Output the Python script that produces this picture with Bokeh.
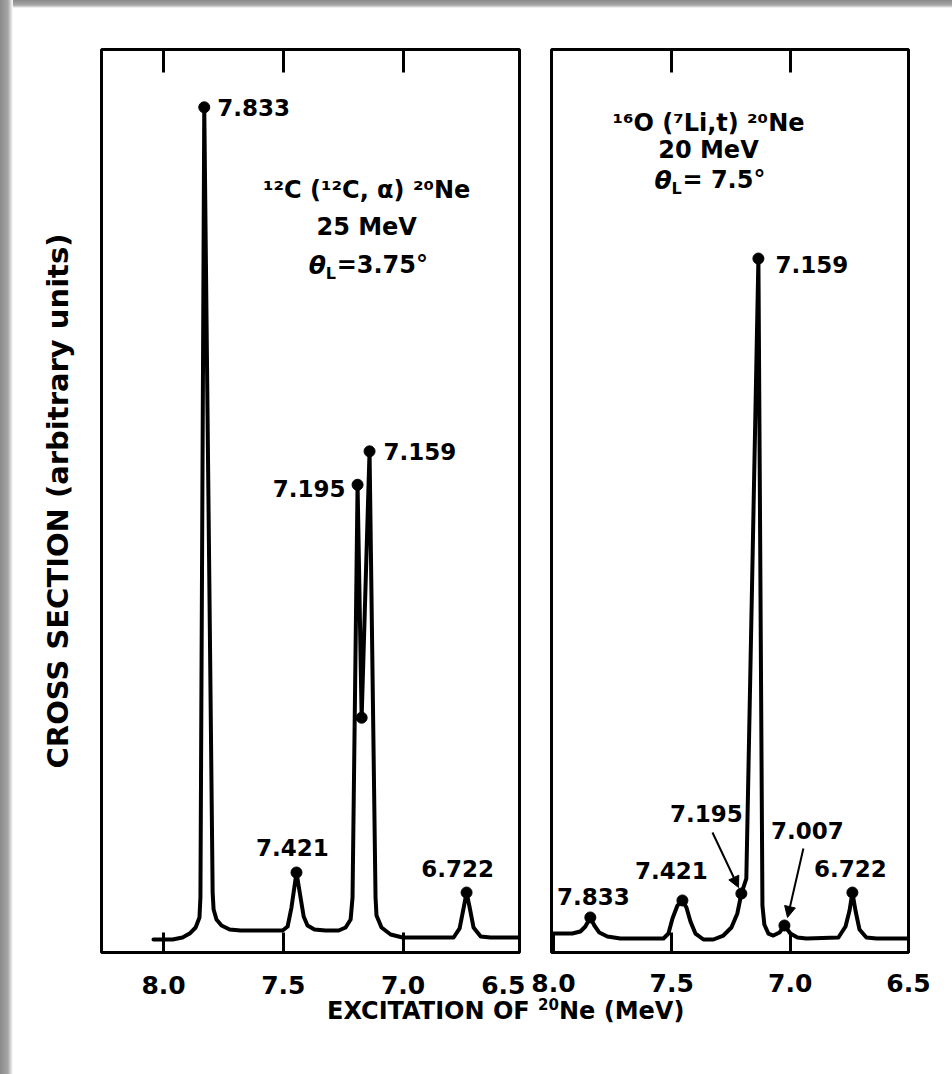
from bokeh.plotting import figure
from bokeh.layouts import row, column
from bokeh.models import (Range1d, FixedTicker, LinearAxis, Arrow, NormalHead,
                          Div, PrintfTickFormatter, GlobalInlineStyleSheet,
                          CustomLabelingPolicy)
from bokeh.core.properties import value
from bokeh.embed import file_html
from bokeh.resources import INLINE

FONT = "DejaVu Sans"

# ---------------- data: 12C(12C,alpha)20Ne, 25 MeV, theta_L = 3.75 deg ----------------
c12_excitation = [8.042, 7.962, 7.921, 7.891, 7.866, 7.850, 7.846, 7.830, 7.795, 7.791,
                  7.779, 7.758, 7.724, 7.678, 7.503, 7.482, 7.466, 7.445, 7.428, 7.415,
                  7.399, 7.370, 7.324, 7.269, 7.240, 7.219, 7.211, 7.190, 7.173, 7.140,
                  7.115, 7.111, 7.090, 7.052, 7.002, 6.789, 6.764, 6.747, 6.735, 6.722,
                  6.706, 6.676, 6.635, 6.514]
c12_cross_section = [1.44, 1.44, 1.66, 2.10, 2.77, 3.88, 6.09, 93.6, 6.64, 4.76,
                     3.65, 2.99, 2.55, 2.44, 2.44, 2.88, 4.98, 8.86, 6.09, 3.99,
                     2.99, 2.55, 2.44, 2.44, 2.77, 3.65, 6.09, 51.8, 26.0, 55.5,
                     6.09, 4.10, 2.77, 1.99, 1.66, 1.66, 2.66, 4.98, 6.64, 4.98,
                     2.77, 1.77, 1.66, 1.66]
c12_marked_excitation = [7.830, 7.445, 7.190, 7.173, 7.140, 6.735]
c12_marked_cross_section = [93.6, 8.86, 51.8, 26.0, 55.5, 6.64]
c12_marked_labels = ["7.833", "7.421", "7.195", "", "7.159", "6.722"]

# ---------------- data: 16O(7Li,t)20Ne, 20 MeV, theta_L = 7.5 deg ----------------
o16_excitation = [8.004, 7.920, 7.886, 7.865, 7.844, 7.827, 7.806, 7.772, 7.717, 7.535,
                  7.514, 7.497, 7.476, 7.455, 7.438, 7.421, 7.400, 7.366, 7.324, 7.282,
                  7.248, 7.223, 7.206, 7.185, 7.134, 7.117, 7.109, 7.092, 7.071, 7.045,
                  7.024, 6.999, 6.969, 6.931, 6.796, 6.766, 6.749, 6.737, 6.724, 6.707,
                  6.678, 6.635, 6.500]
o16_cross_section = [2.10, 2.10, 2.33, 2.88, 3.88, 2.99, 2.21, 1.77, 1.55, 1.55,
                     2.10, 3.77, 5.20, 5.76, 4.98, 3.43, 2.10, 1.44, 1.44, 1.88,
                     2.77, 4.32, 6.53, 8.19, 76.85, 5.20, 3.10, 2.10, 1.88, 2.21,
                     2.99, 2.10, 1.66, 1.55, 1.66, 2.88, 4.65, 6.64, 4.65, 2.55,
                     1.66, 1.55, 1.55]
o16_marked_excitation = [7.844, 7.455, 7.206, 7.134, 7.024, 6.737]
o16_marked_cross_section = [3.88, 5.76, 6.53, 76.85, 2.99, 6.64]
o16_marked_labels = ["7.833", "7.421", "7.195", "7.159", "7.007", "6.722"]

tick_values = [8.0, 7.5, 7.0, 6.5]
tick_labels = ["8.0", "7.5", "7.0", "6.5"]

# ---------------- styles / label placement (screen px offsets) ----------------
c12_label_style = [("left", 13, 0), ("center", -4, -25), ("right", -12, 4),
                   ("center", 0, 0), ("left", 14, 0), ("center", -9, -24)]
o16_label_style = [("center", 3, -21), ("center", -11, -30), ("center", -35, -80),
                   ("left", 17, 6), ("center", 23, -95), ("center", -2, -24)]
LABEL_SIZE = "23px"
EDGE_LABEL_SHIFT = 0.065   # panel 1: "6.5" printed just inside the right edge


def tick_only_axis(ticks, tick_len):
    ax = LinearAxis(ticker=FixedTicker(ticks=ticks))
    ax.axis_line_color = None
    ax.major_tick_in = tick_len
    ax.major_tick_out = 0
    ax.minor_tick_in = 0
    ax.minor_tick_out = 0
    ax.major_tick_line_width = 3
    ax.major_tick_line_color = "black"
    ax.major_label_text_font_size = "2px"
    ax.major_label_standoff = 0
    ax.major_label_policy = CustomLabelingPolicy(code="return new Set()")
    return ax


def label_axis(ticks, overrides, tick_len, standoff):
    ax = LinearAxis(ticker=FixedTicker(ticks=ticks),
                    formatter=PrintfTickFormatter(format="%.1f"))
    if overrides:
        ax.major_label_overrides = overrides
    ax.axis_line_color = None
    ax.major_tick_in = tick_len
    ax.major_tick_out = 0
    ax.minor_tick_in = 0
    ax.minor_tick_out = 0
    ax.major_tick_line_width = 3
    ax.major_tick_line_color = "black"
    ax.major_label_text_font = FONT
    ax.major_label_text_font_size = "25px"
    ax.major_label_text_font_style = "bold"
    ax.major_label_text_color = "black"
    ax.major_label_standoff = standoff
    return ax


def make_panel(x_start, x_end, frame_w, b_left, b_right, b_top, b_bottom, ticks_top):
    p = figure(x_range=Range1d(x_start, x_end), y_range=Range1d(0, 100),
               frame_width=frame_w, frame_height=903,
               min_border_left=b_left, min_border_right=b_right,
               min_border_top=b_top, min_border_bottom=b_bottom,
               x_axis_location=None, y_axis_location=None,
               output_backend="svg", toolbar_location=None)
    p.grid.visible = False
    p.outline_line_color = "black"
    p.outline_line_width = 3
    p.border_fill_color = None
    p.background_fill_color = "white"
    p.add_layout(tick_only_axis(ticks_top, 23), "above")
    return p


def draw_spectrum(p, xs, ys, mx, my, labels, styles):
    p.line(xs, ys, line_width=4, line_color="black", line_join="round", line_cap="round")
    p.scatter(mx, my, size=11, color="black")
    for x, y, t, (al, dx, dy) in zip(mx, my, labels, styles):
        if not t:
            continue
        p.text(x=[x], y=[y], text=[t], x_offset=dx, y_offset=dy,
               text_align=al, text_baseline="middle",
               text_font=value(FONT), text_font_size=LABEL_SIZE,
               text_font_style="bold", text_color="black")


def reaction_text(p, xc, y1, y2, y3, line1, line2, theta_val, theta_start):
    common = dict(text_baseline="middle", text_font=value(FONT), text_color="black")
    p.text(x=[xc], y=[y1], text=[line1], text_align="center",
           text_font_size="24px", text_font_style="bold", **common)
    p.text(x=[xc], y=[y2], text=[line2], text_align="center",
           text_font_size="24px", text_font_style="bold", **common)
    p.text(x=[xc], y=[y3], text=["θ"], text_align="left", x_offset=theta_start,
           text_font_size="25px", text_font_style="bold italic", **common)
    p.text(x=[xc], y=[y3], text=["L"], text_align="left", x_offset=theta_start + 17,
           y_offset=8, text_font_size="16px", text_font_style="bold", **common)
    p.text(x=[xc], y=[y3], text=[theta_val], text_align="left", x_offset=theta_start + 28,
           text_font_size="24px", text_font_style="bold", **common)


# ---------------- panel 1 ----------------
p1 = make_panel(8.259, 6.514, 418, 101, 6, 47, 52, tick_values[:3])
# ticks at the frame, then the labels (the last one pulled inside the right edge)
p1.add_layout(tick_only_axis(tick_values[:3], 20), "below")
p1_label_ticks = tick_values[:3] + [tick_values[3] + EDGE_LABEL_SHIFT]
p1.add_layout(label_axis(p1_label_ticks, {p1_label_ticks[3]: tick_labels[3]}, 0, 19), "below")

left = LinearAxis(ticker=FixedTicker(ticks=[]), axis_label="CROSS SECTION (arbitrary units)")
left.axis_line_color = None
left.major_tick_in = 0
left.major_tick_out = 0
left.minor_tick_in = 0
left.minor_tick_out = 0
left.axis_label_text_font = FONT
left.axis_label_text_font_size = "29px"
left.axis_label_text_font_style = "bold"
left.axis_label_text_color = "black"
left.axis_label_standoff = 27
p1.add_layout(left, "left")

draw_spectrum(p1, c12_excitation, c12_cross_section, c12_marked_excitation,
              c12_marked_cross_section, c12_marked_labels, c12_label_style)
reaction_text(p1, 7.152, 84.4, 80.3, 76.1, "¹²C (¹²C, α) ²⁰Ne", "25 MeV", "=3.75°", -58)

# ---------------- panel 2 ----------------
p2 = make_panel(8.008, 6.5, 357, 26, 36, 49, 50, tick_values[1:3])
p2.add_layout(label_axis(tick_values, None, 20, 21), "below")
draw_spectrum(p2, o16_excitation, o16_cross_section, o16_marked_excitation,
              o16_marked_cross_section, o16_marked_labels, o16_label_style)
reaction_text(p2, 7.345, 91.9, 88.9, 85.5, "¹⁶O (⁷Li,t) ²⁰Ne", "20 MeV", "= 7.5°", -54)

arrow_start_x = [7.328, 6.944]
arrow_start_y = [13.29, 11.52]
arrow_end_x = [7.218, 7.011]
arrow_end_y = [7.20, 3.88]
for xs, ys, xe, ye in zip(arrow_start_x, arrow_start_y, arrow_end_x, arrow_end_y):
    p2.add_layout(Arrow(end=NormalHead(size=11, fill_color="black", line_color="black"),
                        x_start=xs, y_start=ys, x_end=xe, y_end=ye,
                        line_width=2, line_color="black"))

title = Div(
    text=('<div style="position:relative; top:-13px; left:322px; white-space:nowrap; '
          'font-family:\'DejaVu Sans\'; font-weight:bold; font-size:24px; color:black;">'
          'EXCITATION OF <sup style="font-size:15px">20</sup>Ne (MeV)</div>'),
    width=936, height=40)

css = ("body { background: "
       "linear-gradient(to right, #8a8a8a 0px, #a6a6a6 8px, #dcdcdc 11px, #ffffff 13px) left top / 13px 100% no-repeat, "
       "linear-gradient(to bottom, #8a8a8a 0px, #a6a6a6 5px, #dcdcdc 7px, #ffffff 8px) left top / 100% 8px no-repeat, "
       "#ffffff; }")

layout = column(row(p1, p2, spacing=0), title, spacing=0,
                stylesheets=[GlobalInlineStyleSheet(css=css)])

open("out.html", "w").write(file_html(layout, INLINE))
